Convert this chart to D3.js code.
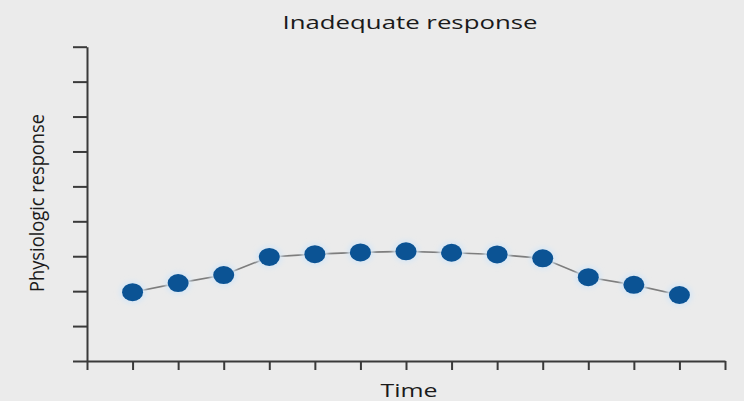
<!DOCTYPE html>
<html>
<head>
<meta charset="utf-8">
<script src="https://cdn.jsdelivr.net/npm/d3@7"></script>
<style>
  html, body { margin: 0; padding: 0; background: #ebebeb; }
  svg { display: block; }
  text { font-family: "Open Sans", "Noto Sans", sans-serif; fill: #1a1a1a; }
</style>
</head>
<body>
<svg id="chart" width="744" height="401"></svg>
<script>
const title = "Inadequate response";
const xLabel = "Time";
const yLabel = "Physiologic response";
const timePoints = [1, 2, 3, 4, 5, 6, 7, 8, 9, 10, 11, 12, 13];
const responseValues = [1.97, 2.23, 2.46, 2.98, 3.06, 3.11, 3.14, 3.10, 3.05, 2.94, 2.40, 2.18, 1.89];
const xTicks = [0, 1, 2, 3, 4, 5, 6, 7, 8, 9, 10, 11, 12, 13, 14];
const yTicks = [0, 1, 2, 3, 4, 5, 6, 7, 8, 9];

const svg = d3.select("#chart");
svg.append("rect").attr("width", 744).attr("height", 401).attr("fill", "#ebebeb");

const x = d3.scaleLinear().domain([0, 14]).range([87, 725]);
const y = d3.scaleLinear().domain([0, 9]).range([361, 46.7]);

const defs = svg.append("defs");
const f = defs.append("filter").attr("id", "glow").attr("x", "-50%").attr("y", "-50%").attr("width", "200%").attr("height", "200%");
f.append("feGaussianBlur").attr("stdDeviation", 2.5);

// axes
const yAxis = d3.axisLeft(y).tickValues(yTicks).tickSize(14).tickSizeOuter(0).tickFormat("");
const gy = svg.append("g").attr("transform", `translate(${x(0)},0)`).call(yAxis);
const xAxis = d3.axisBottom(x).tickValues(xTicks).tickSize(9).tickSizeOuter(0).tickFormat("");
const gx = svg.append("g").attr("transform", `translate(0,${y(0)})`).call(xAxis);
[gx, gy].forEach(g => {
  g.select(".domain").attr("stroke", "#3a3a3a").attr("stroke-width", 2);
  g.selectAll(".tick line").attr("stroke", "#3a3a3a").attr("stroke-width", 2);
});

// line
const data = timePoints.map((t, i) => ({t, v: responseValues[i]}));
svg.append("path").datum(data)
  .attr("fill", "none").attr("stroke", "#7d7d7d").attr("stroke-width", 1.6)
  .attr("d", d3.line().x(d => x(d.t)).y(d => y(d.v)));

// halo
svg.append("g").attr("filter", "url(#glow)").selectAll("ellipse").data(data).join("ellipse")
  .attr("cx", d => x(d.t)).attr("cy", d => y(d.v)).attr("rx", 13).attr("ry", 11)
  .attr("fill", "#d6e6f5");
svg.append("g").selectAll("ellipse").data(data).join("ellipse")
  .attr("cx", d => x(d.t)).attr("cy", d => y(d.v)).attr("rx", 10.5).attr("ry", 9)
  .attr("fill", "#0b5394");

// texts
svg.append("text").attr("x", 410).attr("y", 29).attr("text-anchor", "middle")
  .attr("font-size", 18).attr("font-weight", 500).attr("textLength", 255).attr("lengthAdjust", "spacingAndGlyphs").text(title);
svg.append("text").attr("x", 409).attr("y", 397).attr("text-anchor", "middle")
  .attr("font-size", 18).attr("font-weight", 500).attr("textLength", 57).attr("lengthAdjust", "spacingAndGlyphs").text(xLabel);
svg.append("text").attr("transform", "translate(44,203) scale(1.3,1) rotate(-90)")
  .attr("text-anchor", "middle").attr("font-size", 16).attr("font-weight", 500)
  .attr("textLength", 178).attr("lengthAdjust", "spacingAndGlyphs").text(yLabel);
</script>
</body>
</html>
